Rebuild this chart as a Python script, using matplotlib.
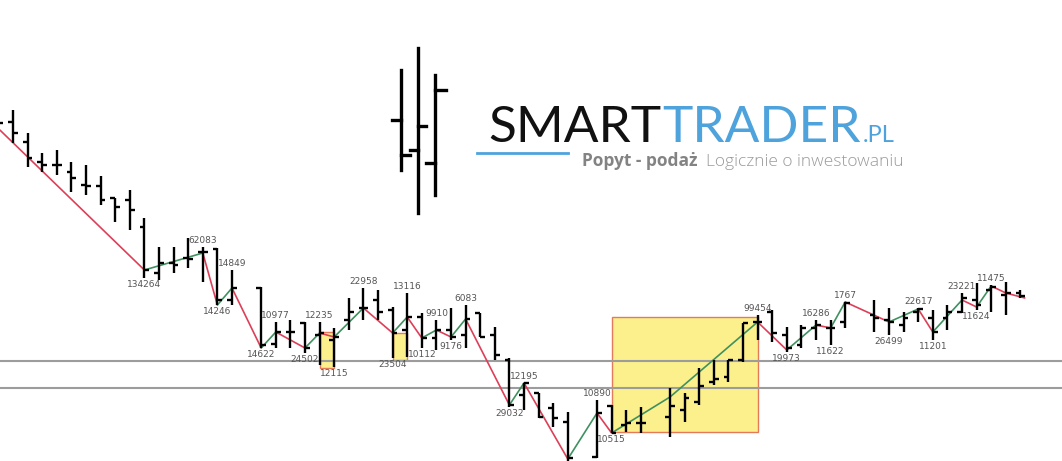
import matplotlib
matplotlib.use('Agg')
import matplotlib.pyplot as plt
from matplotlib.patches import Rectangle
from matplotlib.lines import Line2D

# --- price bars (slot index, some slots are empty) ---
bar_idx = [-1, 0, 1, 2, 3, 4, 5, 6, 7, 8, 9, 10, 11, 12, 13, 14, 15,
           17, 18, 19, 20, 21, 22, 23, 24, 25, 26, 27, 28, 29, 30, 31, 32, 33,
           34, 35, 36, 37, 38, 40, 41, 42, 43, 45, 46, 47, 48, 49, 50, 51,
           52, 53, 54, 55, 56, 57, 59, 60, 61, 62, 63, 64, 65, 66, 67, 68, 69]
bar_high = [356, 351, 328, 308, 311, 299, 296, 285, 263, 271, 243, 214, 214, 223, 214, 213, 191,
            174, 139, 141, 139, 139, 133, 163, 173, 171, 154, 168, 148, 141, 153, 156, 148, 134,
            103, 78, 68, 58, 49, 61, 56, 51, 54, 73, 68, 93, 101, 101, 138, 146,
            151, 134, 136, 141, 141, 159, 161, 153, 149, 153, 151, 156, 168, 178, 176, 179, 171]
bar_low = [329, 318, 294, 289, 286, 269, 266, 256, 239, 231, 183, 181, 188, 193, 179, 156, 156,
           113, 113, 113, 108, 96, 94, 131, 141, 141, 103, 104, 113, 111, 121, 113, 124, 101,
           54, 51, 43, 34, -5, 3, 28, 29, 28, 24, 39, 56, 76, 79, 99, 121,
           119, 109, 113, 121, 116, 133, 129, 126, 129, 139, 121, 131, 148, 151, 149, 146, 163]
bar_open = [349, 339, 319, 299, 296, 289, 276, 275, 263, 261, 234, 188, 198, 203, 209, 212, 161,
            173, 117, 129, 138, 126, 121, 141, 153, 161, 151, 131, 144, 123, 131, 126, 148, 126,
            101, 66, 68, 53, 39, 4, 55, 36, 38, 44, 51, 59, 79, 84, 101, 139,
            149, 126, 116, 133, 133, 139, 146, 141, 136, 149, 143, 143, 149, 161, 171, 166, 168]
bar_close = [338, 328, 303, 296, 296, 283, 275, 261, 254, 251, 191, 198, 196, 202, 209, 161, 173,
             116, 129, 129, 113, 128, 124, 149, 153, 149, 128, 144, 123, 131, 124, 142, 124, 106,
             56, 78, 44, 43, 3, 48, 28, 38, 38, 55, 63, 75, 82, 101, 138, 139,
             128, 113, 133, 136, 133, 158, 143, 139, 143, 152, 129, 149, 163, 156, 174, 168, 165]

# --- zigzag swing points ---
zz_idx = [-0.9, 9, 13, 14, 15, 17, 18, 20, 21, 22, 24, 26, 27, 28, 29, 30, 31,
          34, 35, 38, 40, 41, 45, 51, 53, 55, 56, 57, 60, 62, 63, 65, 66, 67, 68, 69.3]
zz_price = [331, 191, 208, 156, 173, 113, 129, 113, 128, 124, 153, 128, 144, 123, 131, 124, 142,
            56, 78, 2, 48, 28, 64, 139, 111, 136, 133, 159, 139, 152, 129, 161, 154, 175, 168, 163]

# --- volume labels at swings ---
lab_idx = [9, 13, 14, 15, 17, 18, 20, 21, 22, 24, 26, 27, 28, 29, 30, 31,
           34, 35, 40, 41, 51, 53, 55, 56, 57, 60, 62, 63, 65, 66, 67]
lab_txt = ['134264', '62083', '14246', '14849', '14622', '10977', '24502', '12235', '12115',
           '22958', '23504', '13116', '10112', '9910', '9176', '6083',
           '29032', '12195', '10890', '10515', '99454', '19973', '16286', '11622', '1767',
           '26499', '22617', '11201', '23221', '11624', '11475']
lab_side = ['low', 'high', 'low', 'high', 'low', 'high', 'low', 'high', 'low',
            'high', 'low', 'high', 'low', 'high', 'low', 'high',
            'low', 'high', 'high', 'low', 'high', 'low', 'high', 'low', 'high',
            'low', 'high', 'low', 'high', 'low', 'high']

# --- horizontal levels and highlighted zones ---
levels = [100, 73]
zone_start = [21, 26, 41]
zone_end = [22, 27, 51]
zone_low = [93, 101, 29]
zone_high = [129, 128, 144]

W, H = 1062, 461
fig = plt.figure(figsize=(W / 100, H / 100), dpi=100)
fig.patch.set_facecolor('white')
ax = fig.add_axes([0, 0, 1, 1])
ax.set_xlim(-13 / 14.6, (W - 13) / 14.6)
ax.set_ylim(0, H)
ax.axis('off')

for s, e, lo, hi in zip(zone_start, zone_end, zone_low, zone_high):
    ax.add_patch(Rectangle((s, lo), e - s, hi - lo, facecolor='#fbf08c',
                           edgecolor='#e57a5a', lw=1.0, zorder=1))

for lv in levels:
    ax.axhline(lv, color='#9c9c9c', lw=1.5, zorder=2)

# zigzag: red going down, green going up
for k in range(len(zz_idx) - 1):
    c = '#de3f58' if zz_price[k + 1] < zz_price[k] else '#3f9160'
    ax.plot(zz_idx[k:k + 2], zz_price[k:k + 2], color=c, lw=1.2, zorder=3,
            solid_capstyle='round')

tk = 0.33
ax.vlines(bar_idx, bar_low, bar_high, color='black', lw=1.7, zorder=4)
ax.hlines(bar_open, [i - tk for i in bar_idx], bar_idx, color='black', lw=1.7, zorder=4)
ax.hlines(bar_close, bar_idx, [i + tk for i in bar_idx], color='black', lw=1.7, zorder=4)

hi_of = dict(zip(bar_idx, bar_high))
lo_of = dict(zip(bar_idx, bar_low))
for i, t, sd in zip(lab_idx, lab_txt, lab_side):
    if sd == 'high':
        ax.annotate(t, (i, hi_of[i]), xytext=(0, 1.5), textcoords='offset points',
                    ha='center', va='bottom', fontsize=6.5, color='#555555', zorder=5)
    else:
        ax.annotate(t, (i, lo_of[i]), xytext=(0, -1.5), textcoords='offset points',
                    ha='center', va='top', fontsize=6.5, color='#555555', zorder=5)

# --- logo ---
def fx(x):
    return x / W

def fy(y):
    return 1 - y / H

logo_bars = [(401, 70, 170), (418, 48, 213), (435, 75, 195)]
logo_ticks = [(392, 401, 120), (401, 410, 155), (418, 426, 126), (410, 418, 150),
              (435, 446, 90), (426, 435, 163)]
for x, y0, y1 in logo_bars:
    fig.add_artist(Line2D([fx(x), fx(x)], [fy(y0), fy(y1)], color='black', lw=2.4))
for x0, x1, y in logo_ticks:
    fig.add_artist(Line2D([fx(x0), fx(x1)], [fy(y), fy(y)], color='black', lw=2.4))

blue = '#4ea3dc'
base = H - 142
smart = fig.text(fx(488), fy(142), 'SMART', fontsize=37, family='Lato',
                 color='#111111', va='baseline', ha='left')
trader = ax.annotate('TRADER', xy=(1, base), xycoords=(smart, 'figure pixels'),
                     xytext=(0.5, 0), textcoords='offset points',
                     fontsize=37, family='Lato', color=blue, va='baseline', ha='left')
ax.annotate('.PL', xy=(1, base), xycoords=(trader, 'figure pixels'),
            xytext=(2, 0), textcoords='offset points',
            fontsize=17, family='Lato', color=blue, va='baseline', ha='left')
fig.add_artist(Line2D([fx(477), fx(568)], [fy(153), fy(153)], color=blue, lw=2.0))
pp = fig.text(fx(582), fy(166), 'Popyt - podaż', fontsize=12.5, family='Open Sans',
              weight='bold', color='#838383', va='baseline', ha='left')
ax.annotate('Logicznie o inwestowaniu', xy=(1, H - 166), xycoords=(pp, 'figure pixels'),
            xytext=(6, 0), textcoords='offset points', fontsize=12.5,
            family='Open Sans', weight='light', color='#9a9a9a',
            va='baseline', ha='left')

fig.savefig('out.png', dpi=100, facecolor='white')
